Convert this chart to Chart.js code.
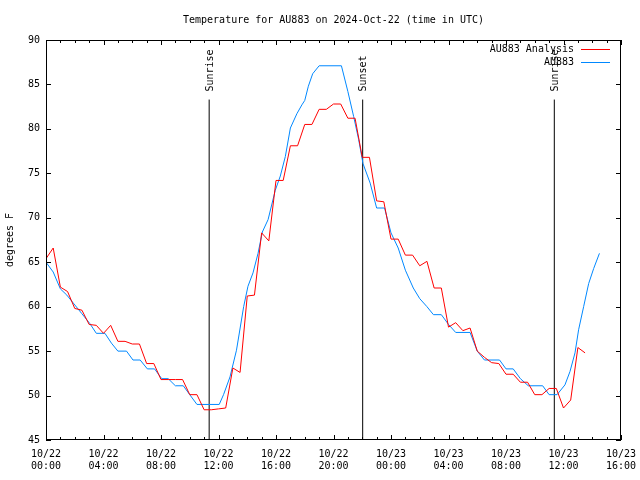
<!DOCTYPE html>
<html><head><meta charset="utf-8">
<script src="https://cdn.jsdelivr.net/npm/chart.js@4/dist/chart.umd.min.js"></script>
<style>html,body{margin:0;padding:0;background:#fff}#wrap{width:640px;height:480px}</style>
</head><body><div id="wrap"><canvas id="c" width="640" height="480"></canvas></div>
<script>
// hours since 2024-10-22 00:00 UTC
const analysisHours = [0,0.5,1,1.5,2,2.5,3,3.5,4,4.5,5,5.5,6,6.5,7,7.5,8,8.5,9,9.5,10,10.5,11,11.5,12,12.5,13,13.5,14,14.5,15,15.5,16,16.5,17,17.5,18,18.5,19,19.5,20,20.5,21,21.5,22,22.5,23,23.5,24,24.5,25,25.5,26,26.5,27,27.5,28,28.5,29,29.5,30,30.5,31,31.5,32,32.5,33,33.5,34,34.5,35,35.5,36,36.5,37,37.5];
const analysisTemps = [65.4,66.6,62.2,61.7,59.8,59.6,58.0,57.9,57.0,57.9,56.1,56.1,55.8,55.8,53.6,53.6,51.8,51.8,51.8,51.8,50.1,50.1,48.4,48.4,48.5,48.6,53.1,52.6,61.2,61.3,68.3,67.4,74.2,74.2,78.1,78.1,80.5,80.5,82.2,82.2,82.8,82.8,81.2,81.2,76.8,76.8,71.9,71.8,67.6,67.6,65.8,65.8,64.6,65.1,62.1,62.1,57.7,58.2,57.3,57.6,55.0,54.3,53.7,53.6,52.4,52.4,51.5,51.5,50.1,50.1,50.8,50.8,48.6,49.5,55.4,54.8];
const obsHours = [0,0.5,1,1.45,1.9,2.5,3.05,3.5,4.1,4.55,5,5.6,6.05,6.55,7.05,7.55,8.05,8.5,9,9.55,10,10.5,12.05,12.35,12.8,13.25,13.75,14.05,14.4,14.75,15.05,15.45,15.95,16.3,16.65,17,17.45,17.8,18,18.25,18.55,19,20.55,21,21.4,21.75,22.05,22.55,23,23.55,24,24.5,25,25.55,26,26.5,26.95,27.5,28,28.5,29.5,30,30.5,31.55,32,32.5,33,33.55,34.55,35,35.55,36.1,36.45,36.8,37.05,37.4,37.75,38.1,38.5];
const obsTemps = [65.0,63.9,62.0,61.3,60.4,59.2,58.1,57.0,57.0,55.9,55.0,55.0,54.0,54.0,53.0,53.0,51.9,51.9,51.1,51.1,50.1,49.0,49.0,50.1,52.1,55.1,60.0,62.3,63.8,66.0,68.4,69.8,73.1,74.7,76.9,80.1,81.7,82.7,83.2,84.8,86.2,87.1,87.1,84.2,81.4,78.8,76.1,73.9,71.1,71.1,68.3,66.6,64.1,62.1,60.9,60.0,59.1,59.1,58.0,57.1,57.1,55.0,54.0,54.0,53.0,53.0,51.9,51.1,51.1,50.1,50.1,51.2,52.7,54.8,57.4,60.0,62.6,64.3,66.0];
const sunHours = [11.35, 22.03, 35.36];
const sunLabels = ['Sunrise', 'Sunset', 'Sunrise'];
const sunLineTop = 83.3;
const xTickLabels = [['10/22','00:00'],['10/22','04:00'],['10/22','08:00'],['10/22','12:00'],['10/22','16:00'],['10/22','20:00'],['10/23','00:00'],['10/23','04:00'],['10/23','08:00'],['10/23','12:00'],['10/23','16:00']];
const seriesNames = ['AU883 Analysis', 'AU883'];
const titleText = 'Temperature for AU883 on 2024-Oct-22 (time in UTC)';

const FONT = "'DejaVu Sans Mono', 'Liberation Mono', monospace";
const RED = '#ff0000', BLUE = '#0088ff';

const datasets = [
  { label: seriesNames[0], data: analysisHours.map((h,i)=>({x:h,y:analysisTemps[i]})), borderColor: RED, borderWidth: 1, pointRadius: 0, tension: 0, fill: false },
  { label: seriesNames[1], data: obsHours.map((h,i)=>({x:h,y:obsTemps[i]})), borderColor: BLUE, borderWidth: 1, pointRadius: 0, tension: 0, fill: false }
];
sunHours.forEach((h,i)=>{
  datasets.push({ label: sunLabels[i], data: [{x:h,y:45},{x:h,y:sunLineTop}], borderColor: '#000', borderWidth: 1, pointRadius: 0, fill: false });
});

const decor = {
  id: 'decor',
  afterDatasetsDraw(chart) {
    const ctx = chart.ctx, a = chart.chartArea, xs = chart.scales.x, ys = chart.scales.y;
    ctx.save();
    ctx.strokeStyle = '#000'; ctx.lineWidth = 1;
    // frame
    ctx.strokeRect(Math.round(a.left)+0.5, Math.round(a.top)+0.5, Math.round(a.right-a.left)-1, Math.round(a.bottom-a.top)-1);
    ctx.beginPath();
    for (let v = xs.min; v <= xs.max; v += 1) {
      const px = Math.round(xs.getPixelForValue(v)) + 0.5;
      const len = (v % 4 === 0) ? 5 : 3;
      ctx.moveTo(px, a.bottom); ctx.lineTo(px, a.bottom - len);
      ctx.moveTo(px, a.top); ctx.lineTo(px, a.top + len);
    }
    for (let v = ys.min; v <= ys.max; v += 5) {
      const py = Math.round(ys.getPixelForValue(v)) + 0.5;
      ctx.moveTo(a.left, py); ctx.lineTo(a.left + 5, py);
      ctx.moveTo(a.right, py); ctx.lineTo(a.right - 5, py);
    }
    ctx.stroke();
    // sun labels
    ctx.fillStyle = '#000';
    ctx.font = '10px ' + FONT;
    sunHours.forEach((h,i)=>{
      const px = xs.getPixelForValue(h), py = ys.getPixelForValue(sunLineTop) - 8;
      ctx.save();
      ctx.translate(px + 1, py);
      ctx.rotate(-Math.PI/2);
      ctx.textAlign = 'left'; ctx.textBaseline = 'middle';
      ctx.fillText(sunLabels[i], 0, 0);
      ctx.restore();
    });
    // legend
    ctx.textAlign = 'right'; ctx.textBaseline = 'middle';
    const cols = [RED, BLUE];
    seriesNames.forEach((n,i)=>{
      const y = a.top + 9 + i*13;
      ctx.fillStyle = '#000';
      ctx.fillText(n, a.right - 47, y);
      ctx.strokeStyle = cols[i];
      ctx.beginPath(); ctx.moveTo(a.right - 40, Math.round(y)+0.5); ctx.lineTo(a.right - 11, Math.round(y)+0.5); ctx.stroke();
    });
    ctx.restore();
  }
};

new Chart(document.getElementById('c'), {
  type: 'line',
  data: { datasets },
  options: {
    responsive: false, animation: false, devicePixelRatio: 1,
    layout: { padding: { left: 0, right: 19, top: 0, bottom: 0 } },
    plugins: {
      legend: { display: false },
      tooltip: { enabled: false },
      title: { display: true, text: titleText, fullSize: false, color: '#000', font: { family: FONT, size: 10, weight: 'normal' }, padding: { top: 14, bottom: 14 } }
    },
    scales: {
      x: {
        type: 'linear', min: 0, max: 40,
        grid: { display: false, drawTicks: false }, border: { display: false },
        ticks: { stepSize: 4, autoSkip: false, maxRotation: 0, padding: 8, color: '#000', font: { family: FONT, size: 10, lineHeight: 1.25 },
          callback: (v) => xTickLabels[Math.round(v/4)] },
        afterFit: (s) => { s.height = 40; s.paddingLeft = 0; s.paddingRight = 0; }
      },
      y: {
        min: 45, max: 90,
        grid: { display: false, drawTicks: false }, border: { display: false },
        ticks: { stepSize: 5, padding: 6, color: '#000', font: { family: FONT, size: 10 } },
        title: { display: true, text: 'degrees F', color: '#000', font: { family: FONT, size: 10 }, padding: { top: 4, bottom: 0 } },
        afterFit: (s) => { s.width = 46; s.paddingTop = 0; s.paddingBottom = 0; }
      }
    }
  },
  plugins: [decor]
});
</script></body></html>
